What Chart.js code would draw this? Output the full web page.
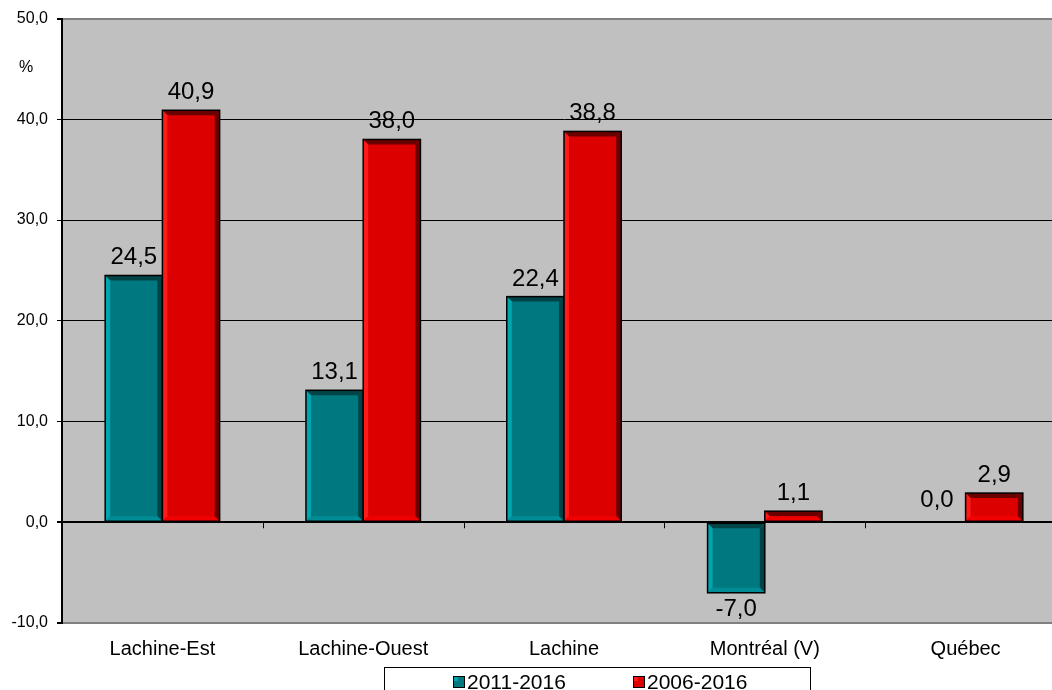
<!DOCTYPE html>
<html>
<head>
<meta charset="utf-8">
<script src="https://cdn.jsdelivr.net/npm/chart.js@4"></script>
<style>
  html, body { margin: 0; padding: 0; background: #fff; }
  #wrap { width: 1052px; height: 690px; overflow: hidden; position: relative; }
  canvas { display: block; }
</style>
</head>
<body>
<div id="wrap"><canvas id="chart" width="1066" height="700"></canvas></div>
<script>
const categories = ['Lachine-Est', 'Lachine-Ouest', 'Lachine', 'Montréal (V)', 'Québec'];
const series2011 = [24.5, 13.1, 22.4, -7.0, 0.0];
const series2006 = [40.9, 38.0, 38.8, 1.1, 2.9];
const seriesLabels = ['2011-2016', '2006-2016'];
const yTicks = [-10, 0, 10, 20, 30, 40, 50];

const FONT = '"Liberation Sans", Arial, sans-serif';
const fmt = v => v.toFixed(1).replace('.', ',');

const palette = [
    { base: '#007880', light: '#00A6AE', dark: '#004448', low: '#008C94' },
    { base: '#DD0000', light: '#FF1A1A', dark: '#6A0000', low: '#F00000' }
];

// grey plot background
const plotBg = {
    id: 'plotBg',
    beforeDraw(chart) {
        const { ctx, chartArea: a } = chart;
        ctx.save();
        ctx.fillStyle = '#C0C0C0';
        ctx.fillRect(a.left, a.top, a.right - a.left, a.bottom - a.top);
        ctx.restore();
    }
};

// bevelled bars, value labels, zero-line ticks, % label and boxed legend
const decorations = {
    id: 'decorations',
    afterDatasetsDraw(chart) {
        const { ctx } = chart;
        const x = chart.scales.x, y = chart.scales.y;
        ctx.save();
        chart.data.datasets.forEach((ds, di) => {
            const col = palette[di];
            chart.getDatasetMeta(di).data.forEach((bar, i) => {
                const l = bar.x - bar.width / 2, r = bar.x + bar.width / 2;
                const t = Math.min(bar.y, bar.base), b = Math.max(bar.y, bar.base);
                const h = b - t;
                if (h > 1) {
                    const e = Math.min(5, h / 2);
                    const poly = (pts, c) => {
                        ctx.fillStyle = c;
                        ctx.beginPath();
                        ctx.moveTo(pts[0][0], pts[0][1]);
                        pts.slice(1).forEach(p => ctx.lineTo(p[0], p[1]));
                        ctx.closePath();
                        ctx.fill();
                    };
                    poly([[l, t], [r, t], [r - e, t + e], [l + e, t + e]], col.dark);
                    poly([[l, t], [l + e, t + e], [l + e, b - e], [l, b]], col.light);
                    poly([[r, t], [r, b], [r - e, b - e], [r - e, t + e]], col.dark);
                    poly([[l, b], [l + e, b - e], [r - e, b - e], [r, b]], col.low);
                    ctx.strokeStyle = '#000';
                    ctx.lineWidth = 1.5;
                    ctx.strokeRect(l, t, r - l, h);
                }
                const v = ds.data[i];
                ctx.fillStyle = '#000';
                ctx.font = '24px ' + FONT;
                ctx.textAlign = 'center';
                if (v < 0) {
                    ctx.textBaseline = 'top';
                    ctx.fillText(fmt(v), bar.x, b + 5);
                } else {
                    ctx.textBaseline = 'alphabetic';
                    ctx.fillText(fmt(v), bar.x, t - (v === 0 ? 15 : 11));
                }
            });
        });

        // small ticks on zero line between categories
        const y0 = y.getPixelForValue(0);
        ctx.strokeStyle = '#000';
        ctx.lineWidth = 1;
        for (let i = 0; i < categories.length; i++) {
            const px = Math.round((x.getPixelForValue(i) + x.getPixelForValue(i + 1)) / 2) + 0.5;
            ctx.beginPath();
            ctx.moveTo(px, y0);
            ctx.lineTo(px, y0 + 6);
            ctx.stroke();
        }

        // % unit
        ctx.font = '16px ' + FONT;
        ctx.textAlign = 'center';
        ctx.textBaseline = 'middle';
        ctx.fillText('%', 26, 68);

        // legend box
        const bx = 384, by = 667, bw = 426;
        ctx.fillStyle = '#fff';
        ctx.fillRect(bx, by, bw, 60);
        ctx.strokeStyle = '#000';
        ctx.lineWidth = 1;
        ctx.strokeRect(bx + 0.5, by + 0.5, bw, 60);
        const itemX = [453, 633];
        ctx.font = '21px ' + FONT;
        ctx.textAlign = 'left';
        ctx.textBaseline = 'alphabetic';
        chart.data.datasets.forEach((ds, di) => {
            const col = palette[di];
            const sx = itemX[di], sy = 676;
            ctx.fillStyle = col.base;
            ctx.fillRect(sx, sy, 11, 11);
            ctx.fillStyle = col.light;
            ctx.fillRect(sx + 1, sy + 1, 4, 4);
            ctx.strokeStyle = '#000';
            ctx.strokeRect(sx + 0.5, sy + 0.5, 11, 11);
            ctx.fillStyle = '#000';
            ctx.fillText(ds.label, sx + 14, 689);
        });
        ctx.restore();
    }
};

new Chart(document.getElementById('chart'), {
    type: 'bar',
    data: {
        labels: categories,
        datasets: [
            { label: seriesLabels[0], data: series2011, backgroundColor: palette[0].base },
            { label: seriesLabels[1], data: series2006, backgroundColor: palette[1].base }
        ]
    },
    options: {
        responsive: false,
        animation: false,
        events: [],
        layout: { padding: { top: 17, right: 0, left: 0, bottom: 0 } },
        datasets: { bar: { categoryPercentage: 0.57, barPercentage: 1.0, borderWidth: 0 } },
        plugins: {
            legend: { display: false },
            tooltip: { enabled: false }
        },
        scales: {
            x: {
                grid: { display: false },
                border: { display: false },
                ticks: { color: '#000', font: { family: FONT, size: 20 }, padding: 6, maxRotation: 0 },
                afterFit: s => { s.height = 77; }
            },
            y: {
                min: -10,
                max: 50,
                afterBuildTicks: s => { s.ticks = yTicks.map(v => ({ value: v })); },
                ticks: { color: '#000', font: { family: FONT, size: 16 }, padding: 9, callback: v => fmt(v) },
                grid: {
                    color: c => (c.tick.value === 50 || c.tick.value === -10) ? '#808080' : '#000',
                    lineWidth: c => (c.tick.value === 0 || c.tick.value === 50 || c.tick.value === -10) ? 2 : 1,
                    tickColor: '#000',
                    tickLength: 5
                },
                border: { color: '#000', width: 2 },
                afterFit: s => { s.width = 62; }
            }
        }
    },
    plugins: [plotBg, decorations]
});
</script>
</body>
</html>
